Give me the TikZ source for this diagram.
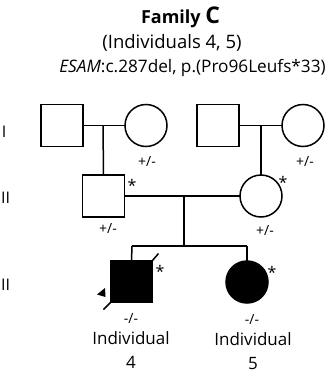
\documentclass[tikz,border=0pt]{standalone}
\usepackage{fontspec}
\setmainfont{Open Sans}
\begin{document}
\begin{tikzpicture}[x=1pt,y=-1pt,
  ln/.style={line width=1.5pt},
  male/.style={draw,line width=1.5pt,minimum size=42pt,inner sep=0pt,outer sep=0pt},
  female/.style={draw,circle,line width=1.5pt,minimum size=42pt,inner sep=0pt,outer sep=0pt},
  aff/.style={fill=black},
  geno/.style={inner sep=0pt,font=\fontsize{14}{14}\selectfont},
  star/.style={inner sep=0pt,font=\fontsize{16}{16}\selectfont},
  lbl/.style={inner sep=0pt,font=\fontsize{17}{24}\selectfont,align=center},
  gen/.style={inner sep=0pt,font=\fontsize{16}{16}\selectfont}]
\useasboundingbox (0,0) rectangle (335,372);
% title
\node[inner sep=0pt] (t1) at (180.5,17) {\fontsize{18}{18}\selectfont\bfseries Family \fontsize{23}{23}\selectfont C};
\node[lbl,font=\fontsize{18.5}{20}\selectfont] (t2) at (172,43) {(Individuals 4, 5)};
\node[lbl,font=\fontsize{17.2}{20}\selectfont] (t3) at (192.5,68) {\textit{ESAM}:c.287del, p.(Pro96Leufs*33)};
% generation labels
\node[gen] (g1) at (4,132) {I};
\node[gen] (g2) at (5.5,198) {II};
\node[gen] (g3) at (5.5,285) {II};
% generation I
\node[male] (i1) at (62,125.5) {};
\node[female] (i2) at (146,125.5) {};
\node[male] (i3) at (218,125.5) {};
\node[female] (i4) at (303,125.5) {};
\node[geno] at (147,162) {+/-};
\node[geno] at (305,162) {+/-};
% generation II
\node[male] (ii1) at (103.5,196) {};
\node[female] (ii2) at (261,196) {};
\node[star] at (132,185) {*};
\node[star] at (283,182) {*};
\node[geno] at (108,228) {+/-};
\node[geno] at (265,230) {+/-};
% generation III
\node[male,aff] (iii1) at (131.5,281.5) {};
\node[female,aff] (iii2) at (247,282) {};
\node[star] at (160,271) {*};
\node[star] at (272,272) {*};
\node[geno] at (131,318) {-/-};
\node[geno] at (252,319) {-/-};
\node[lbl] (n4) at (131,350) {Individual\\4};
\node[lbl] (n5) at (253,351) {Individual\\5};
% marriage lines and descent
\coordinate (m1) at (103,125.5);
\coordinate (m2) at (261,125.5);
\coordinate (m3) at (184,196);
\coordinate (s1) at (184,246);
\coordinate (sl) at (132,246);
\coordinate (sr) at (247,246);
\draw[ln] (i1.east) -- (i2.west);
\draw[ln] (i3.east) -- (i4.west);
\draw[ln] (m1) -- (ii1.north);
\draw[ln] (m2) -- (ii2.north);
\draw[ln] (ii1.east) -- (ii2.west);
\draw[ln] (m3) -- (s1);
\draw[ln] (sl) -- (sr);
\draw[ln] (sl) -- (iii1.north);
\draw[ln] (sr) -- (iii2.north);
% deceased slash ends
\draw[ln] (iii1.south west) -- ++(-7,7);
\draw[ln] (iii1.north east) -- ++(6,-7);
% proband arrowhead
\fill (97,294.5) -- (105,288) -- (105.5,297) -- cycle;
\end{tikzpicture}
\end{document}
